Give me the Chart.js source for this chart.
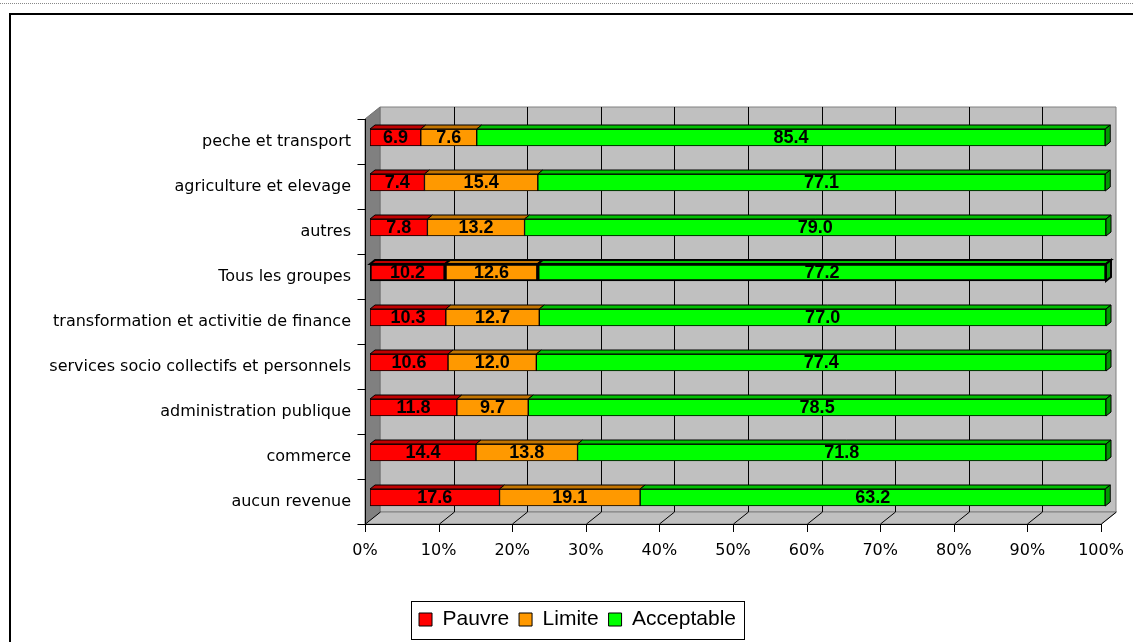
<!DOCTYPE html>
<html>
<head>
<meta charset="utf-8">
<script src="https://cdn.jsdelivr.net/npm/chart.js@4/dist/chart.umd.min.js"></script>
<style>
body { margin: 0; background: #fff; }
</style>
</head>
<body>
<canvas id="grafico" width="1133" height="642"></canvas>
<script>
const categories = [
    'peche et transport',
    'agriculture et elevage',
    'autres',
    'Tous les groupes',
    'transformation et activitie de finance',
    'services socio collectifs et personnels',
    'administration publique',
    'commerce',
    'aucun revenue'
];
const pauvre = [6.9, 7.4, 7.8, 10.2, 10.3, 10.6, 11.8, 14.4, 17.6];
const limite = [7.6, 15.4, 13.2, 12.6, 12.7, 12.0, 9.7, 13.8, 19.1];
const acceptable = [85.4, 77.1, 79.0, 77.2, 77.0, 77.4, 78.5, 71.8, 63.2];
const xTicks = [0, 10, 20, 30, 40, 50, 60, 70, 80, 90, 100];

const FONT = "'Liberation Sans', Arial, sans-serif";
const AXIS_FONT = "'DejaVu Sans', sans-serif";
const DX = 5, DY = -4;   // one depth step: bar front -> bar back
const topColors = ['#c00000', '#c47500', '#00c000'];
const sideColor = '#009a00';
const totalIndex = categories.indexOf('Tous les groupes');

function poly(ctx, pts, fill, stroke, width) {
    ctx.beginPath();
    ctx.moveTo(pts[0][0], pts[0][1]);
    for (let i = 1; i < pts.length; i++) ctx.lineTo(pts[i][0], pts[i][1]);
    ctx.closePath();
    if (fill) { ctx.fillStyle = fill; ctx.fill(); }
    if (stroke) { ctx.strokeStyle = stroke; ctx.lineWidth = width || 1; ctx.stroke(); }
}

function line(ctx, x1, y1, x2, y2) {
    ctx.beginPath();
    ctx.moveTo(x1, y1);
    ctx.lineTo(x2, y2);
    ctx.stroke();
}

const cadre = {
    id: 'cadre',
    beforeDraw(chart) {
        const ctx = chart.ctx;
        ctx.save();
        ctx.fillStyle = '#fff';
        ctx.fillRect(0, 0, chart.width, chart.height);
        ctx.strokeStyle = '#888';
        ctx.lineWidth = 1;
        ctx.setLineDash([1, 1]);
        line(ctx, 0, 3.5, chart.width, 3.5);
        ctx.setLineDash([]);
        ctx.strokeStyle = '#000';
        ctx.lineWidth = 2;
        ctx.strokeRect(10, 14, chart.width + 50, chart.height + 50);
        ctx.restore();
    }
};

const murs = {
    id: 'murs',
    beforeDatasetsDraw(chart) {
        const ctx = chart.ctx;
        const x = chart.scales.x;
        const L = x.getPixelForValue(0), R = x.getPixelForValue(100);
        const T = chart.chartArea.top, B = chart.chartArea.bottom;
        const fL = L - DX, fR = R - DX, fT = T - DY, fB = B - DY;
        const bL = L + 2 * DX, bR = R + 2 * DX, bT = T + 2 * DY, bB = B + 2 * DY;
        ctx.save();
        // back wall
        poly(ctx, [[bL, bT], [bR, bT], [bR, bB], [bL, bB]], '#c0c0c0', '#808080');
        // left wall
        poly(ctx, [[fL, fT], [bL, bT], [bL, bB], [fL, fB]], '#808080', '#707070');
        // floor
        poly(ctx, [[fL, fB], [bL, bB], [bR, bB], [fR, fB]], '#c0c0c0', '#808080');
        ctx.strokeStyle = '#000';
        ctx.lineWidth = 1;
        xTicks.forEach(v => {
            const xb = Math.round(x.getPixelForValue(v) + 2 * DX) + 0.5;
            const xf = Math.round(x.getPixelForValue(v) - DX) + 0.5;
            if (v > 0 && v < 100) line(ctx, xb, bT, xb, bB);
            line(ctx, xf, fB, xb, bB);
            line(ctx, xf, fB, xf, fB + 8);
        });
        // axes
        const ax = Math.round(fL) + 0.5;
        line(ctx, ax, fT, ax, fB);
        line(ctx, fL, Math.round(fB) + 0.5, fR, Math.round(fB) + 0.5);
        const n = categories.length;
        for (let i = 0; i <= n; i++) {
            const yy = Math.round(fT + i * (fB - fT) / n) + 0.5;
            line(ctx, ax - 8, yy, ax, yy);
        }
        ctx.restore();
    },
    afterDatasetsDraw(chart) {
        const ctx = chart.ctx;
        ctx.save();
        const last = chart.data.datasets.length - 1;
        chart.data.datasets.forEach((ds, di) => {
            const meta = chart.getDatasetMeta(di);
            meta.data.forEach((bar, i) => {
                const p = bar.getProps(['x', 'y', 'base', 'height'], true);
                const left = Math.min(p.x, p.base), right = Math.max(p.x, p.base);
                const top = p.y - p.height / 2, bottom = p.y + p.height / 2;
                const w = i === totalIndex ? 2 : 1;
                poly(ctx, [[left, top], [right, top], [right + DX, top + DY], [left + DX, top + DY]], topColors[di], '#000', w);
                if (di === last) {
                    poly(ctx, [[right, top], [right + DX, top + DY], [right + DX, bottom + DY], [right, bottom]], sideColor, '#000', w);
                }
            });
        });
        ctx.fillStyle = '#000';
        ctx.font = 'bold 18px ' + FONT;
        ctx.textAlign = 'center';
        ctx.textBaseline = 'middle';
        chart.data.datasets.forEach((ds, di) => {
            const meta = chart.getDatasetMeta(di);
            meta.data.forEach((bar, i) => {
                const p = bar.getProps(['x', 'y', 'base'], true);
                ctx.fillText(ds.data[i].toFixed(1), (p.x + p.base) / 2, p.y + 1);
            });
        });
        ctx.restore();
    },
    afterDraw(chart) {
        const boxes = chart.legend && chart.legend.legendHitBoxes;
        if (!boxes || !boxes.length) return;
        const ctx = chart.ctx;
        const left = Math.min(...boxes.map(b => b.left)) - 8;
        const right = Math.max(...boxes.map(b => b.left + b.width)) + 8;
        const cy = boxes[0].top + boxes[0].height / 2;
        ctx.save();
        ctx.strokeStyle = '#000';
        ctx.lineWidth = 1;
        ctx.strokeRect(Math.round(left) + 0.5, Math.round(cy - 19) + 0.5, Math.round(right - left), 38);
        ctx.restore();
    }
};

function dataset(label, data, color) {
    return {
        label: label,
        data: data,
        backgroundColor: color,
        borderColor: '#000',
        borderWidth: ctx => ctx.dataIndex === totalIndex ? 2 : 1,
        borderSkipped: false,
        barThickness: 17
    };
}

const grafico = new Chart(document.getElementById('grafico'), {
    type: 'bar',
    data: {
        labels: categories,
        datasets: [
            dataset('Pauvre', pauvre, '#ff0000'),
            dataset('Limite', limite, '#ff9900'),
            dataset('Acceptable', acceptable, '#00ff00')
        ]
    },
    options: {
        indexAxis: 'y',
        responsive: false,
        animation: false,
        layout: { padding: { top: 115, right: 27, left: 49, bottom: 2 } },
        scales: {
            x: {
                stacked: true,
                min: 0,
                max: 100,
                afterFit: s => { s.height = 79; s.paddingLeft = 0; s.paddingRight = 0; },
                afterBuildTicks: s => { s.ticks = xTicks.map(v => ({ value: v })); },
                grid: { display: false, drawTicks: false },
                border: { display: false },
                ticks: {
                    padding: 21,
                    labelOffset: -DX,
                    color: '#000',
                    maxRotation: 0,
                    autoSkip: false,
                    font: { family: AXIS_FONT, size: 16 },
                    callback: v => v + '%'
                }
            },
            y: {
                stacked: true,
                afterFit: s => { s.width = 321; s.paddingTop = 0; s.paddingBottom = 0; },
                grid: { display: false, drawTicks: false },
                border: { display: false },
                ticks: {
                    padding: 19,
                    labelOffset: -DY,
                    color: '#000',
                    font: { family: AXIS_FONT, size: 16 }
                }
            }
        },
        plugins: {
            legend: {
                position: 'bottom',
                labels: {
                    color: '#000',
                    boxWidth: 13,
                    boxHeight: 13,
                    padding: 10,
                    font: { family: FONT, size: 21 }
                }
            },
            tooltip: { enabled: false }
        }
    },
    plugins: [cadre, murs]
});
</script>
</body>
</html>
